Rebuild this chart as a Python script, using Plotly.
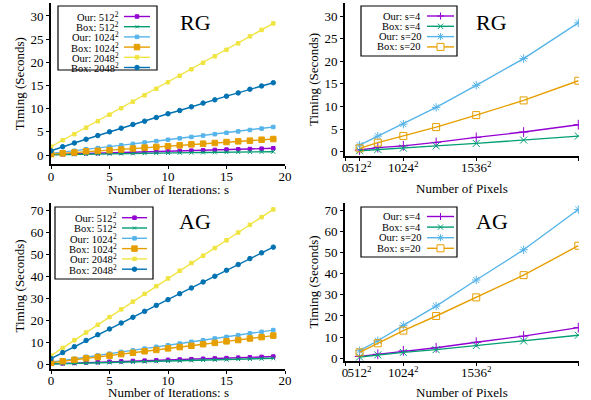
import plotly.graph_objects as go

W, H = 591, 400
FONT = "Liberation Serif"

# ---------------- data ----------------
iters = list(range(20))

series_names_left = ["Our: 512<sup>2</sup>", "Box: 512<sup>2</sup>", "Our: 1024<sup>2</sup>",
                     "Box: 1024<sup>2</sup>", "Our: 2048<sup>2</sup>", "Box: 2048<sup>2</sup>"]

our512_rg = [0.10, 0.17, 0.25, 0.37, 0.40, 0.47, 0.55, 0.60, 0.68, 0.75, 0.82, 0.88, 0.95, 1.02, 1.10, 1.17, 1.23, 1.30, 1.37, 1.45]
box512_rg = [0.05, 0.10, 0.15, 0.22, 0.25, 0.28, 0.32, 0.35, 0.38, 0.42, 0.45, 0.49, 0.52, 0.55, 0.58, 0.62, 0.65, 0.68, 0.70, 0.72]
our1024_rg = [0.35, 0.62, 0.92, 1.25, 1.50, 1.80, 2.10, 2.40, 2.70, 3.00, 3.30, 3.60, 3.90, 4.20, 4.50, 4.80, 5.10, 5.40, 5.70, 6.05]
box1024_rg = [0.20, 0.37, 0.55, 0.80, 0.90, 1.05, 1.20, 1.40, 1.60, 1.75, 1.90, 2.10, 2.30, 2.45, 2.60, 2.80, 2.95, 3.10, 3.30, 3.45]
our2048_rg = [1.8, 3.2, 4.5, 5.9, 7.3, 8.7, 10.1, 11.5, 12.9, 14.3, 15.7, 17.1, 18.5, 19.9, 21.3, 22.7, 24.1, 25.6, 27.0, 28.4]
box2048_rg = [0.9, 1.8, 2.6, 3.4, 4.2, 5.0, 5.8, 6.6, 7.3, 8.1, 8.9, 9.6, 10.4, 11.2, 11.9, 12.7, 13.4, 14.2, 14.9, 15.6]

our512_ag = [0.30, 0.50, 0.70, 0.90, 1.05, 1.25, 1.40, 1.60, 1.75, 1.90, 2.10, 2.25, 2.40, 2.60, 2.75, 2.90, 3.10, 3.25, 3.45, 3.60]
box512_ag = [0.20, 0.35, 0.50, 0.60, 0.75, 0.90, 1.00, 1.15, 1.30, 1.45, 1.55, 1.70, 1.85, 2.00, 2.10, 2.25, 2.40, 2.50, 2.65, 2.80]
our1024_ag = [1.0, 1.8, 2.6, 3.5, 4.1, 4.9, 5.7, 6.4, 7.2, 8.0, 8.7, 9.5, 10.3, 11.0, 11.8, 12.5, 13.3, 14.1, 14.8, 15.6]
box1024_ag = [0.8, 1.5, 2.1, 2.8, 3.4, 4.0, 4.7, 5.3, 6.0, 6.6, 7.3, 7.9, 8.5, 9.2, 9.8, 10.5, 11.1, 11.8, 12.4, 13.1]
our2048_ag = [4.0, 7.5, 11.0, 14.5, 18.0, 21.5, 25.0, 28.5, 32.0, 35.5, 39.0, 42.5, 46.0, 49.3, 52.8, 56.3, 59.8, 63.3, 66.8, 70.3]
box2048_ag = [2.7, 5.4, 8.1, 10.9, 13.5, 16.1, 18.8, 21.4, 24.1, 26.8, 29.4, 32.1, 34.7, 37.4, 40.0, 42.7, 45.3, 48.0, 50.6, 53.2]

sides = [512, 768, 1024, 1280, 1536, 1792, 2048]
tick_sides = [512, 1024, 1536, 2048]
series_names_right = ["Our: s=4", "Box: s=4", "Our: s=20", "Box: s=20"]

our_s4_rg = [0.37, 0.90, 1.30, 2.06, 3.17, 4.35, 5.97]
box_s4_rg = [0.22, 0.50, 0.80, 1.30, 1.84, 2.58, 3.46]
our_s20_rg = [1.47, 3.46, 6.10, 9.80, 14.70, 20.60, 28.50]
box_s20_rg = [0.74, 2.00, 3.50, 5.45, 8.10, 11.35, 15.70]

our_s4_ag = [0.9, 1.9, 3.5, 5.0, 7.6, 10.5, 14.5]
box_s4_ag = [0.6, 1.6, 2.8, 4.1, 6.0, 8.2, 10.9]
our_s20_ag = [3.6, 8.3, 15.6, 24.7, 37.0, 51.3, 70.3]
box_s20_ag = [2.8, 7.1, 13.1, 20.0, 28.8, 39.3, 53.2]

panel_titles = ["RG", "RG", "AG", "AG"]
x_titles = ["Number of Iterations: s", "Number of Pixels", "Number of Iterations: s", "Number of Pixels"]
y_title = "Timing (Seconds)"

# ---------------- styles ----------------
left_colors = ["#9400D3", "#009E73", "#56B4E9", "#E69F00", "#F0E442", "#0072B2"]
left_symbols = ["square", "x-thin-open", "square", "square", "square", "circle"]
left_sizes = [3.5, 4, 3.5, 5.5, 3.5, 4.5]
right_colors = ["#9400D3", "#009E73", "#56B4E9", "#E69F00"]
right_symbols = ["cross-thin-open", "x-thin-open", "asterisk-open", "square-open"]
right_sizes = [7, 7, 7, 7]

pixels = [s * s for s in sides]

fig = go.Figure()


def add_series(xs, ys_list, names, colors, symbols, sizes, xa, ya):
    for ys, n, c, sym, sz in zip(ys_list, names, colors, symbols, sizes):
        fig.add_trace(go.Scatter(
            x=xs, y=ys, name=n, mode="lines+markers", xaxis=xa, yaxis=ya,
            line=dict(color=c, width=1.4),
            marker=dict(symbol=sym, size=sz, color=c, line=dict(color=c, width=1)),
            showlegend=False))


add_series(iters, [our512_rg, box512_rg, our1024_rg, box1024_rg, our2048_rg, box2048_rg],
           series_names_left, left_colors, left_symbols, left_sizes, "x", "y")
add_series(pixels, [our_s4_rg, box_s4_rg, our_s20_rg, box_s20_rg],
           series_names_right, right_colors, right_symbols, right_sizes, "x2", "y2")
add_series(iters, [our512_ag, box512_ag, our1024_ag, box1024_ag, our2048_ag, box2048_ag],
           series_names_left, left_colors, left_symbols, left_sizes, "x3", "y3")
add_series(pixels, [our_s4_ag, box_s4_ag, our_s20_ag, box_s20_ag],
           series_names_right, right_colors, right_symbols, right_sizes, "x4", "y4")


def xdom(l, r):
    return [l / W, r / W]


def ydom(top, bottom):
    return [1 - bottom / H, 1 - top / H]


tickfont = dict(family=FONT, size=13, color="black")
titlefont = dict(family=FONT, size=13, color="black")

common = dict(showline=True, linecolor="black", linewidth=1.6, ticks="outside",
              ticklen=3, tickwidth=1, tickcolor="black", showgrid=False, zeroline=False,
              tickfont=tickfont, fixedrange=True, automargin=False, tickangle=0)
xcommon = dict(common, ticklabelstandoff=-4)

right_tickvals = [0] + [s * s for s in tick_sides]
right_ticktext = ["0"] + ["%d<sup>2</sup>" % s for s in tick_sides]
xmax_right = 4194304 * 234.0 / 233.3

fig.update_layout(
    template="none",
    width=W, height=H, margin=dict(l=0, r=0, t=0, b=0, pad=0),
    paper_bgcolor="white", plot_bgcolor="white",
    font=dict(family=FONT, color="black"),
    xaxis=dict(domain=xdom(51, 285), anchor="y", range=[0, 20], dtick=5, **xcommon),
    yaxis=dict(domain=ydom(3, 164.3), anchor="x", range=[-2.0, 32.8], dtick=5,
               title=dict(text=y_title, font=titlefont, standoff=3), **common),
    xaxis2=dict(domain=xdom(345, 579), anchor="y2", range=[0, xmax_right],
                tickmode="array", tickvals=right_tickvals, ticktext=right_ticktext, **xcommon),
    yaxis2=dict(domain=ydom(3, 155.7), anchor="x2", range=[-0.88, 32.9], dtick=5,
                title=dict(text=y_title, font=titlefont, standoff=3), **common),
    xaxis3=dict(domain=xdom(51, 285), anchor="y3", range=[0, 20], dtick=5, **xcommon),
    yaxis3=dict(domain=ydom(203, 369), anchor="x3", range=[-2.04, 73.2], dtick=10,
                title=dict(text=y_title, font=titlefont, standoff=3), **common),
    xaxis4=dict(domain=xdom(345, 579), anchor="y4", range=[0, xmax_right],
                tickmode="array", tickvals=right_tickvals, ticktext=right_ticktext, **xcommon),
    yaxis4=dict(domain=ydom(203, 361), anchor="x4", range=[-1.27, 73.4], dtick=10,
                title=dict(text=y_title, font=titlefont, standoff=3), **common),
)


def P(px, py):
    return px / W, 1 - py / H


annotations = []
shapes = []

# panel titles
for t, (cx, cy) in zip(panel_titles, [(195, 22.5), (491.5, 22.5), (195.5, 221.7), (491.7, 221.7)]):
    x, y = P(cx, cy)
    annotations.append(dict(text=t, x=x, y=y, xref="paper", yref="paper", showarrow=False,
                            xanchor="center", yanchor="middle",
                            font=dict(family=FONT, size=22, color="black")))

# x-axis titles
for t, (cx, cy) in zip(x_titles, [(168, 189.5), (462, 188), (168, 392.3), (462, 392.3)]):
    x, y = P(cx, cy)
    annotations.append(dict(text=t, x=x, y=y, xref="paper", yref="paper", showarrow=False,
                            xanchor="center", yanchor="middle", borderpad=0, font=titlefont))


def line_shape(x0, y0, x1, y1, color, width=1.0):
    a, b = P(x0, y0)
    c, d = P(x1, y1)
    return dict(type="line", xref="paper", yref="paper", x0=a, y0=b, x1=c, y1=d,
                line=dict(color=color, width=width), layer="above")


def marker_shapes(sym, cx, cy, size, color):
    r = size / 2.0
    out = []
    if sym in ("square", "square-open", "circle"):
        a, b = P(cx - r, cy + r)
        c, d = P(cx + r, cy - r)
        out.append(dict(type="circle" if sym == "circle" else "rect", xref="paper", yref="paper",
                        x0=a, y0=b, x1=c, y1=d, layer="above",
                        fillcolor="white" if sym == "square-open" else color,
                        line=dict(color=color, width=1)))
    if sym in ("x-thin-open", "asterisk-open"):
        k = r * 0.75
        out.append(line_shape(cx - k, cy - k, cx + k, cy + k, color))
        out.append(line_shape(cx - k, cy + k, cx + k, cy - k, color))
    if sym in ("cross-thin-open", "asterisk-open"):
        out.append(line_shape(cx - r, cy, cx + r, cy, color))
        out.append(line_shape(cx, cy - r, cx, cy + r, color))
    return out


def add_legend(box, row0, dy, text_right, samp, names, colors, symbols, sizes):
    a, b = P(box[0], box[3])
    c, d = P(box[2], box[1])
    shapes.append(dict(type="rect", xref="paper", yref="paper", x0=a, y0=b, x1=c, y1=d,
                       fillcolor="white", line=dict(color="black", width=1.2), layer="above"))
    for i, (n, col, sym, sz) in enumerate(zip(names, colors, symbols, sizes)):
        ry = row0 + i * dy
        tx, ty = P(text_right, ry)
        annotations.append(dict(text=n, x=tx, y=ty, xref="paper", yref="paper", showarrow=False,
                                xanchor="right", yanchor="middle", borderpad=0,
                                font=dict(family=FONT, size=10.5, color="black")))
        shapes.append(line_shape(samp[0], ry, samp[1], ry, col, 1.4))
        shapes.extend(marker_shapes(sym, (samp[0] + samp[1]) / 2.0, ry, sz, col))


add_legend((58, 6, 157, 70), 16.5, 10.2, 120, (124, 150),
           series_names_left, left_colors, left_symbols, left_sizes)
add_legend((361, 6, 457, 56), 16.0, 10.3, 422, (427, 454),
           series_names_right, right_colors, right_symbols, right_sizes)
add_legend((55, 207, 153, 279), 217.7, 10.3, 118, (122, 147),
           series_names_left, left_colors, left_symbols, left_sizes)
add_legend((361, 207, 457, 257), 216.5, 10.6, 422, (427, 454),
           series_names_right, right_colors, right_symbols, right_sizes)

fig.update_layout(annotations=annotations, shapes=shapes)

fig.write_html("out.html", config={"displayModeBar": False},
               post_script="document.body.style.margin='0';document.body.style.padding='0';")
